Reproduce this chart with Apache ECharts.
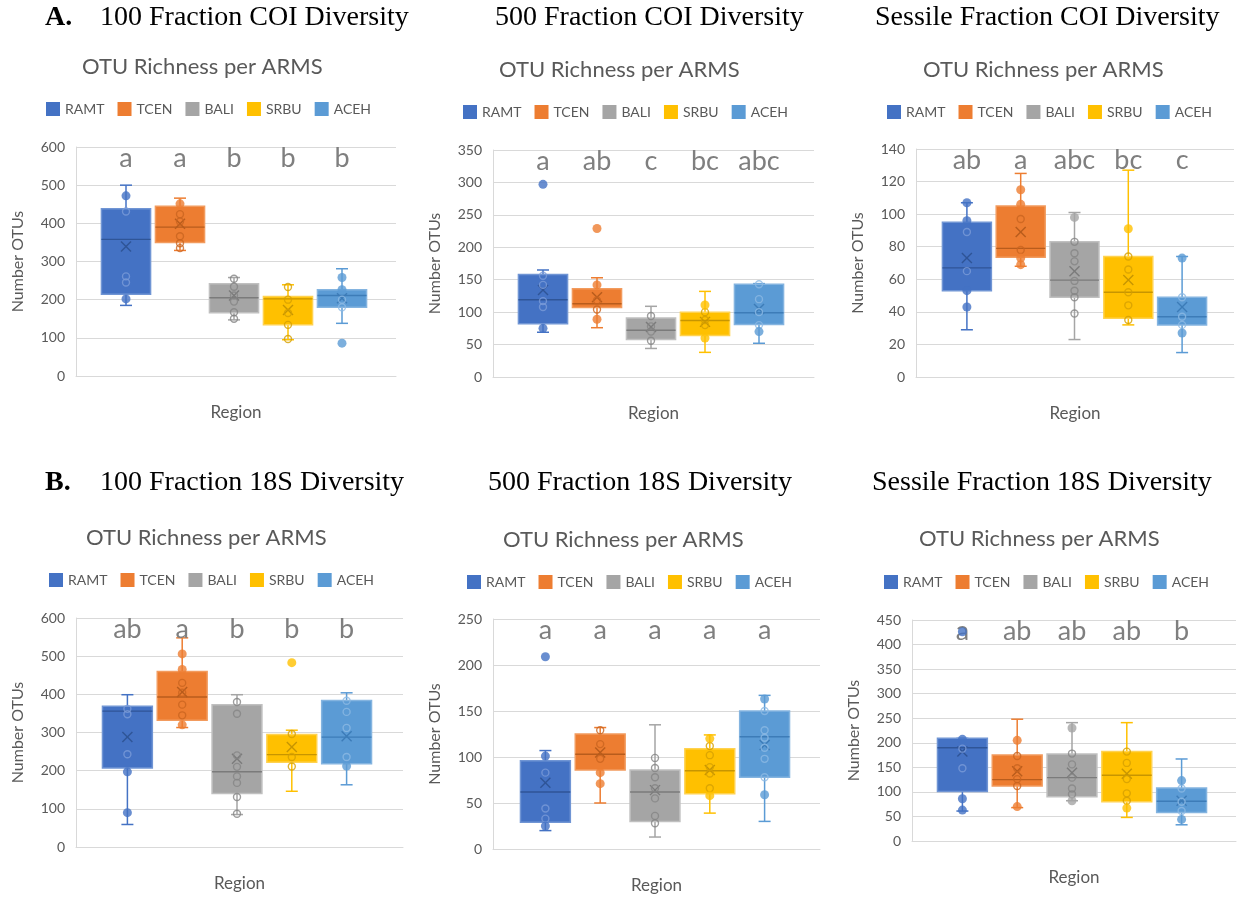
<!DOCTYPE html>
<html>
<head>
<meta charset="utf-8">
<script src="https://cdn.jsdelivr.net/npm/echarts@6/dist/echarts.min.js"></script>
<style>
html,body{margin:0;padding:0;background:#fff;}
#chart{width:1239px;height:897px;}
</style>
</head>
<body>
<div id="chart"></div>
<script>
// ---------- data ----------
const regions = ['RAMT', 'TCEN', 'BALI', 'SRBU', 'ACEH'];
const panelTitles = ['100 Fraction COI Diversity', '500 Fraction COI Diversity', 'Sessile Fraction COI Diversity',
                     '100 Fraction 18S Diversity', '500 Fraction 18S Diversity', 'Sessile Fraction 18S Diversity'];
const panelSubtitle = 'OTU Richness per ARMS';
const sectionLabels = ['A.', 'B.'];
const yAxisMax = [600, 350, 140, 600, 250, 450];
const yAxisStep = [100, 50, 20, 100, 50, 50];

// box: [min, Q1, median, Q3, max] per region
const coi100Box = [[185, 214, 358, 438, 500], [329, 350, 390, 445, 466], [147, 166, 205, 242, 258], [95, 134, 202, 208, 239], [138, 180, 211, 226, 281]];
const coi100Mean = [339, 399, 211, 173, 204];
const coi100Filled = [[472, 202], [451], [], [], [258, 226, 86]];
const coi100Hollow = [[431, 261, 245], [424, 405, 366, 348, 335], [255, 234, 211, 195, 167, 150], [233, 200, 165, 134, 97], [200, 180]];
const coi100Letters = ['a', 'a', 'b', 'b', 'b'];

const coi500Box = [[69, 82, 119, 158, 165], [76, 107, 113, 136, 153], [44, 58, 72, 91, 109], [38, 64, 87, 100, 132], [52, 81, 99, 143, 144]];
const coi500Mean = [134, 123, 77, 85, 105];
const coi500Filled = [[297, 75], [229, 142, 89], [], [111, 60], [70]];
const coi500Hollow = [[156, 142, 117, 108], [118, 104], [94, 78, 70, 56], [100, 88, 80], [143, 120, 100, 80]];
const coi500Letters = ['a', 'ab', 'c', 'bc', 'abc'];

const coiSesBox = [[29, 53, 67, 95, 107], [68, 73.5, 79, 105, 125], [23, 49, 59.5, 83, 101], [32, 36, 52, 74, 127], [15, 32, 37, 49, 74]];
const coiSesMean = [73, 89, 65, 59.5, 43];
const coiSesFilled = [[107, 96, 53, 43], [115, 106, 73, 69], [98], [91], [73, 27]];
const coiSesHollow = [[89, 65], [97, 78], [83, 76, 71, 59, 53, 49, 39], [74, 66, 52, 44, 35], [49, 37, 32]];
const coiSesLetters = ['ab', 'a', 'abc', 'bc', 'c'];

const s18100Box = [[59, 207, 356, 369, 399], [313, 332, 393, 460, 548], [85, 140, 197, 373, 399], [146, 222, 242, 295, 306], [163, 218, 288, 384, 404]];
const s18100Mean = [288, 406, 231, 262, 290];
const s18100Filled = [[197, 90], [506, 465, 320], [], [483], [212]];
const s18100Hollow = [[362, 348, 243], [430, 404, 373, 345], [380, 349, 240, 210, 185, 168, 131, 87], [296, 236, 211], [383, 354, 312, 236]];
const s18100Letters = ['ab', 'a', 'b', 'b', 'b'];

const s18500Box = [[20, 29, 62, 96, 107], [50, 86, 103, 125, 132], [13, 30, 62, 86, 135], [39, 60, 85, 109, 124], [30, 78, 122, 150, 167]];
const s18500Mean = [72, 105, 64, 86, 113];
const s18500Filled = [[209, 101, 25], [83, 71], [], [120, 58], [163, 59]];
const s18500Hollow = [[83, 44, 33], [129, 114, 98], [99, 88, 78, 66, 55, 36, 28], [112, 102, 89, 82, 66], [150, 129, 121, 110, 98, 78]];
const s18500Letters = ['a', 'a', 'a', 'a', 'a'];

const s18SesBox = [[61, 101, 190, 209, 209], [68, 112, 125, 175, 248], [82, 90, 129, 177, 241], [48, 80, 134, 182, 241], [33, 58, 81, 108, 167]];
const s18SesMean = [182, 142, 139, 137, 82];
const s18SesFilled = [[426, 207, 86, 63], [205, 70], [230, 82], [67], [123, 44]];
const s18SesHollow = [[188, 148], [173, 148, 126, 112], [178, 156, 129, 107, 95], [182, 159, 126, 97, 82], [107, 80, 61]];
const s18SesLetters = ['a', 'ab', 'ab', 'ab', 'b'];

const panels = [
  {box: coi100Box, mean: coi100Mean, filled: coi100Filled, hollow: coi100Hollow, letters: coi100Letters},
  {box: coi500Box, mean: coi500Mean, filled: coi500Filled, hollow: coi500Hollow, letters: coi500Letters},
  {box: coiSesBox, mean: coiSesMean, filled: coiSesFilled, hollow: coiSesHollow, letters: coiSesLetters},
  {box: s18100Box, mean: s18100Mean, filled: s18100Filled, hollow: s18100Hollow, letters: s18100Letters},
  {box: s18500Box, mean: s18500Mean, filled: s18500Filled, hollow: s18500Hollow, letters: s18500Letters},
  {box: s18SesBox, mean: s18SesMean, filled: s18SesFilled, hollow: s18SesHollow, letters: s18SesLetters}
];

// ---------- styles / layout ----------
const fillColors = ['#4472C4', '#ED7D31', '#A5A5A5', '#FFC000', '#5B9BD5'];
const edgeColors = ['#7095d4', '#f29b5e', '#c0c0c0', '#ffd24f', '#84b4e0'];
const darkColors = ['#2f5597', '#b85c1c', '#7b7b7b', '#c79500', '#3d7cb8'];
const ringColors = ['#7a9bd8', '#c9641f', '#858585', '#d49f00', '#8cb9e3'];
const SANS = 'Lato';
const SERIF = 'Liberation Serif';
const GRAY = '#595959';

const layout = [
  {gl: 76,  gw: 320, gt: 147, gh: 229, il: 99,  iw: 270, tx: 100, ty: 18,  sx: 82,  sy: 67,  lx: 46,  ly: 109},
  {gl: 493, gw: 321, gt: 150, gh: 227, il: 516, iw: 270, tx: 495, ty: 18,  sx: 499, sy: 70,  lx: 463, ly: 112},
  {gl: 916, gw: 318, gt: 149, gh: 228, il: 940, iw: 269, tx: 875, ty: 18,  sx: 923, sy: 70,  lx: 887, ly: 112},
  {gl: 76,  gw: 327, gt: 618, gh: 229, il: 100, iw: 274, tx: 100, ty: 483, sx: 86,  sy: 538, lx: 49,  ly: 580},
  {gl: 493, gw: 327, gt: 619, gh: 230, il: 518, iw: 274, tx: 488, ty: 483, sx: 503, sy: 540, lx: 467, ly: 582},
  {gl: 912, gw: 324, gt: 620, gh: 221, il: 935, iw: 274, tx: 872, ty: 483, sx: 919, sy: 539, lx: 884, ly: 582}
];
const sectionPos = [{x: 45, y: 18}, {x: 45, y: 483}];

function makeRenderItem(p, r) {
  return function (params, api) {
    const cat = api.value(0);
    const pt = (i) => api.coord([cat, api.value(i)]);
    const pMin = pt(1), pQ1 = pt(2), pMed = pt(3), pQ3 = pt(4), pMax = pt(5), pMean = pt(6);
    const cx = pMin[0];
    const bw = api.size([1, 0])[0] * 0.91;
    const cap = 6, ms = 5;
    const cs = params.coordSys;
    const wStyle = {stroke: fillColors[r], lineWidth: 1.5};
    const dStyle = {stroke: darkColors[r], lineWidth: 1.4};
    return {
      type: 'group',
      children: [
        {type: 'line', shape: {x1: cx, y1: pMax[1], x2: cx, y2: pQ3[1]}, style: wStyle},
        {type: 'line', shape: {x1: cx, y1: pQ1[1], x2: cx, y2: pMin[1]}, style: wStyle},
        {type: 'line', shape: {x1: cx - cap, y1: pMax[1], x2: cx + cap, y2: pMax[1]}, style: wStyle},
        {type: 'line', shape: {x1: cx - cap, y1: pMin[1], x2: cx + cap, y2: pMin[1]}, style: wStyle},
        {type: 'rect', shape: {x: cx - bw / 2, y: pQ3[1], width: bw, height: pQ1[1] - pQ3[1]},
         style: {fill: fillColors[r], stroke: edgeColors[r], lineWidth: 1.5}},
        {type: 'line', shape: {x1: cx - bw / 2, y1: pMed[1], x2: cx + bw / 2, y2: pMed[1]}, style: dStyle},
        {type: 'line', shape: {x1: cx - ms, y1: pMean[1] - ms, x2: cx + ms, y2: pMean[1] + ms}, style: dStyle},
        {type: 'line', shape: {x1: cx - ms, y1: pMean[1] + ms, x2: cx + ms, y2: pMean[1] - ms}, style: dStyle},
        {type: 'text', x: cx, y: cs.y + 11,
         style: {text: panels[p].letters[r], fill: '#7f7f7f', font: '27px ' + SANS, align: 'center', verticalAlign: 'middle'}}
      ]
    };
  };
}

const grid = [], xAxis = [], yAxis = [], series = [], title = [], legend = [];

sectionLabels.forEach((s, i) => {
  title.push({text: s, left: sectionPos[i].x, top: sectionPos[i].y - 14, padding: 0,
    textStyle: {fontFamily: SERIF, fontSize: 28, fontWeight: 'bold', color: '#000'}});
});

panels.forEach((pd, p) => {
  const L = layout[p];
  title.push({text: panelTitles[p], left: L.tx, top: L.ty - 14, padding: 0,
    textStyle: {fontFamily: SERIF, fontSize: 28, fontWeight: 'normal', color: '#000'}});
  title.push({text: panelSubtitle, left: L.sx, top: L.sy - 11, padding: 0,
    textStyle: {fontFamily: SANS, fontSize: 22, fontWeight: 'normal', color: GRAY}});
  legend.push({data: regions, left: L.lx, top: L.ly - 7, padding: 0, itemWidth: 14, itemHeight: 14, itemGap: 13,
    icon: 'rect', selectedMode: false, textStyle: {fontFamily: SANS, fontSize: 14, color: GRAY}});

  grid.push({left: L.gl, top: L.gt, width: L.gw, height: L.gh});
  grid.push({left: L.il, top: L.gt, width: L.iw, height: L.gh});

  xAxis.push({type: 'value', gridIndex: 2 * p, min: 0, max: 1,
    axisLine: {show: true, lineStyle: {color: '#d9d9d9', width: 1}}, axisTick: {show: false},
    axisLabel: {show: false}, splitLine: {show: false},
    name: 'Region', nameLocation: 'middle', nameGap: 28,
    nameTextStyle: {fontFamily: SANS, fontSize: 17, color: GRAY}});
  xAxis.push({type: 'category', gridIndex: 2 * p + 1, data: regions, show: false});

  yAxis.push({type: 'value', gridIndex: 2 * p, min: 0, max: yAxisMax[p], interval: yAxisStep[p],
    axisLine: {show: true, lineStyle: {color: '#d9d9d9', width: 1}}, axisTick: {show: false},
    axisLabel: {fontFamily: SANS, fontSize: 14, color: GRAY, margin: 11},
    splitLine: {show: true, lineStyle: {color: '#d9d9d9', width: 1}},
    name: 'Number OTUs', nameLocation: 'middle', nameGap: 50,
    nameTextStyle: {fontFamily: SANS, fontSize: 16, color: GRAY}});
  yAxis.push({type: 'value', gridIndex: 2 * p + 1, min: 0, max: yAxisMax[p], show: false});

  regions.forEach((name, r) => {
    series.push({
      type: 'custom', name: name, xAxisIndex: 2 * p + 1, yAxisIndex: 2 * p + 1, z: 2, silent: true,
      itemStyle: {color: fillColors[r]},
      renderItem: makeRenderItem(p, r),
      encode: {x: 0, y: [1, 2, 3, 4, 5, 6]},
      data: [[r].concat(pd.box[r], [pd.mean[r]])]
    });
  });

  const filledData = [], hollowData = [];
  regions.forEach((name, r) => {
    pd.filled[r].forEach(v => filledData.push({value: [r, v],
      itemStyle: {color: fillColors[r], borderColor: fillColors[r], borderWidth: 0}}));
    pd.hollow[r].forEach(v => hollowData.push({value: [r, v],
      itemStyle: {color: 'rgba(0,0,0,0)', borderColor: ringColors[r], borderWidth: 1.4}}));
  });
  series.push({type: 'scatter', xAxisIndex: 2 * p + 1, yAxisIndex: 2 * p + 1, z: 3, silent: true,
    symbol: 'circle', symbolSize: 7, data: hollowData});
  series.push({type: 'scatter', xAxisIndex: 2 * p + 1, yAxisIndex: 2 * p + 1, z: 4, silent: true,
    symbol: 'circle', symbolSize: 9, data: filledData});
});

const chart = echarts.init(document.getElementById('chart'), null, {renderer: 'canvas'});
chart.setOption({
  animation: false,
  backgroundColor: '#ffffff',
  title: title,
  legend: legend,
  grid: grid,
  xAxis: xAxis,
  yAxis: yAxis,
  tooltip: {show: false},
  series: series
});
</script>
</body>
</html>
